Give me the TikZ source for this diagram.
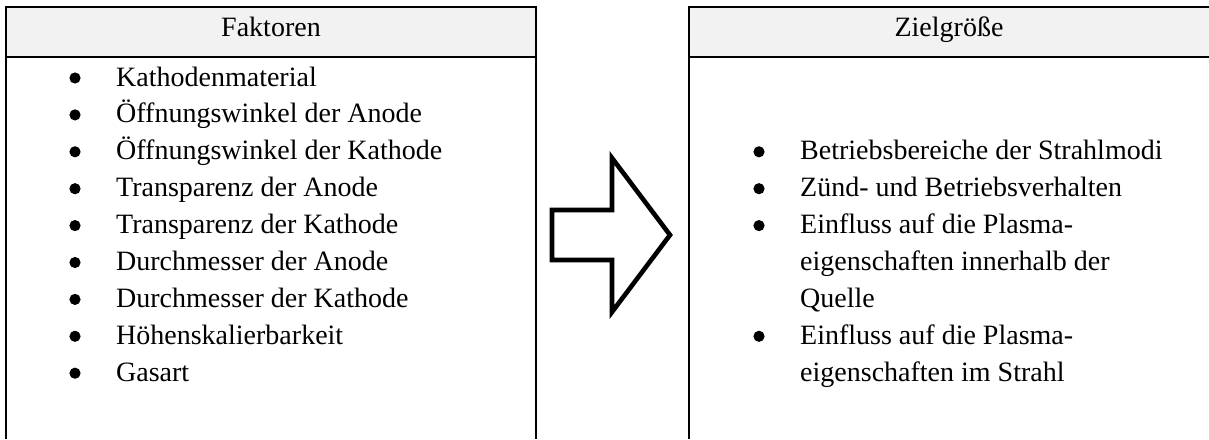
\documentclass[tikz,border=0pt]{standalone}
\usepackage{fontspec}
\setmainfont{Liberation Serif}
\begin{document}
\begin{tikzpicture}[x=1pt,y=1pt,
  frame/.style={line width=2.8pt},
  headfill/.style={fill=headgray},
  headtext/.style={anchor=base,inner sep=0pt,font=\fontsize{28}{34}\selectfont},
  item/.style={anchor=base west,inner sep=0pt,font=\fontsize{28}{34}\selectfont},
  dot/.style={fill=black},
  bigarrow/.style={line width=4.6pt,line join=miter,fill=white}]
\definecolor{headgray}{HTML}{F2F2F2}
\useasboundingbox (0,0) rectangle (1209,-439);
\def\lsp{36.9}
% header bands
\fill[headfill] (6,-7) rectangle (536,-57);
\fill[headfill] (689,-7) rectangle (1209,-57);
% left frame (open at the bottom)
\draw[frame] (6,-439) -- (6,-7) -- (536,-7) -- (536,-439);
\draw[frame] (6,-57) -- (536,-57);
% right frame (open at the bottom and right)
\draw[frame] (689,-439) -- (689,-7) -- (1209,-7);
\draw[frame] (689,-57) -- (1209,-57);
% headers
\node[headtext] (hl) at (271,-36) {Faktoren};
\node[headtext] (hr) at (949,-36) {Zielgröße};
% factor list
\foreach \t [count=\i from 0] in {Kathodenmaterial,Öffnungswinkel der Anode,Öffnungswinkel der Kathode,Transparenz der Anode,Transparenz der Kathode,Durchmesser der Anode,Durchmesser der Kathode,Höhenskalierbarkeit,Gasart}{
  \fill[dot] (75,{-78-\lsp*\i}) circle (5.6);
  \node[item] (f\i) at (116,{-86-\lsp*\i}) {\t};
}
% target list
\foreach \k in {2,3,4,7}{
  \fill[dot] (759,{-78-\lsp*\k}) circle (5.6);
}
\node[item] (z1) at (800,{-86-\lsp*2}) {Betriebsbereiche der Strahlmodi};
\node[item] (z2) at (800,{-86-\lsp*3}) {Zünd- und Betriebsverhalten};
\node[item] (z3a) at (800,{-86-\lsp*4}) {Einfluss auf die Plasma-};
\node[item] (z3b) at (800,{-86-\lsp*5}) {eigenschaften innerhalb der};
\node[item] (z3c) at (800,{-86-\lsp*6}) {Quelle};
\node[item] (z4a) at (800,{-86-\lsp*7}) {Einfluss auf die Plasma-};
\node[item] (z4b) at (800,{-86-\lsp*8}) {eigenschaften im Strahl};
% block arrow between the two frames
\draw[bigarrow] (552,-210) -- (612,-210) -- (612,-158) -- (670,-235)
  -- (612,-312) -- (612,-260) -- (552,-260) -- cycle;
\end{tikzpicture}
\end{document}
